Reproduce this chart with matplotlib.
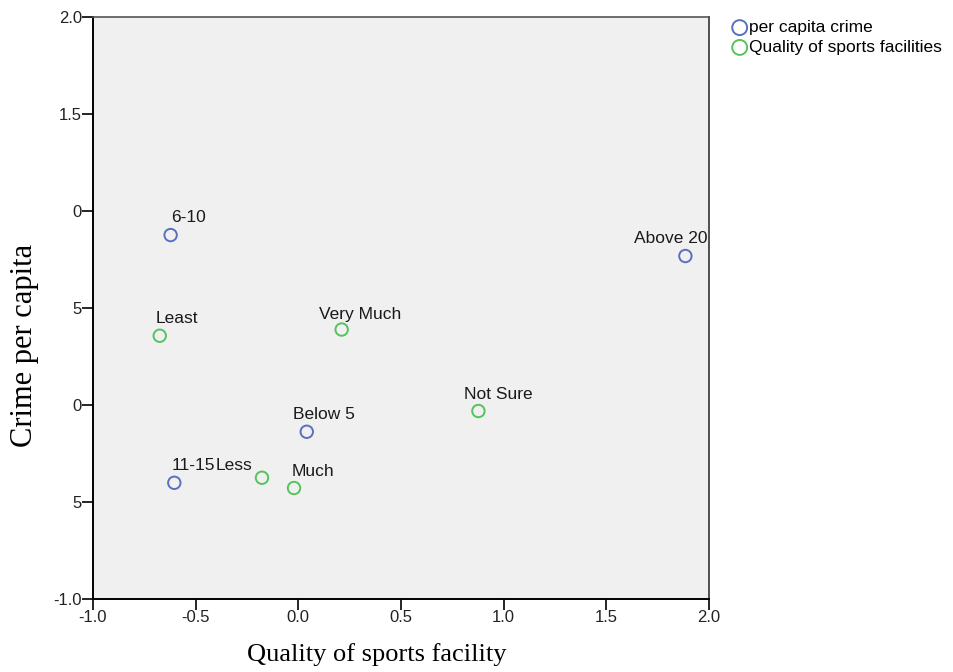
import matplotlib
matplotlib.use("Agg")
import matplotlib.pyplot as plt

# coordonnées des catégories (dimension 1 = qualité, dimension 2 = crime)
crime_labels = ["6-10", "Above 20", "Below 5", "11-15"]
crime_x = [-0.622, 1.885, 0.041, -0.604]
crime_y = [0.876, 0.768, -0.138, -0.401]

sport_labels = ["Least", "Very Much", "Not Sure", "Less", "Much"]
sport_x = [-0.675, 0.211, 0.877, -0.177, -0.021]
sport_y = [0.357, 0.389, -0.031, -0.375, -0.428]

yticks = [2.0, 1.5, 1.0, 0.5, 0.0, -0.5, -1.0]
ytick_labels = ["2.0", "1.5", "0", "5", "0", "5", "-1.0"]
xticks = [-1.0, -0.5, 0.0, 0.5, 1.0, 1.5, 2.0]
xtick_labels = ["-1.0", "-0.5", "0.0", "0.5", "1.0", "1.5", "2.0"]

# décalage des étiquettes en pixels (bord gauche, ligne de base)
crime_off = [(1, 13), (-51, 13), (-14, 13), (-3, 13)]
sport_off = [(-4, 13), (-23, 11), (-14, 12), (-46, 8), (-2, 12)]

plt.rcParams['font.family'] = ['Liberation Sans', 'DejaVu Sans']

fig = plt.figure(figsize=(9.54, 6.72), dpi=100)
ax = fig.add_axes([93/954, 73/672, 616/954, 582/672])
ax.set_facecolor('#f0f0f0')

blue = '#5b6fc2'
green = '#55c25c'

ax.scatter(crime_x, crime_y, s=80, facecolors='none', edgecolors=blue,
           linewidths=1.4, label='per capita crime', zorder=3)
ax.scatter(sport_x, sport_y, s=80, facecolors='none', edgecolors=green,
           linewidths=1.4, label='Quality of sports facilities', zorder=3)

for lab, x, y, off in zip(crime_labels, crime_x, crime_y, crime_off):
    ax.annotate(lab, (x, y), xytext=off, textcoords='offset pixels',
                ha='left', va='baseline', fontsize=12.5, color='#1a1a1a')
for lab, x, y, off in zip(sport_labels, sport_x, sport_y, sport_off):
    ax.annotate(lab, (x, y), xytext=off, textcoords='offset pixels',
                ha='left', va='baseline', fontsize=12.5, color='#1a1a1a')

ax.set_xlim(-1.0, 2.0)
ax.set_ylim(-1.0, 2.0)
ax.set_xticks(xticks)
ax.set_xticklabels(xtick_labels)
ax.set_yticks(yticks)
ax.set_yticklabels(ytick_labels)
ax.tick_params(direction='out', length=8, width=1.2, colors='black', labelsize=12)
ax.tick_params(axis='x', pad=0)
ax.tick_params(axis='y', pad=0)
for t in ax.get_xticklabels() + ax.get_yticklabels():
    t.set_color('#222222')

for side in ['left', 'bottom']:
    ax.spines[side].set_linewidth(1.4)
    ax.spines[side].set_color('black')
ax.spines['top'].set_color('#555555')
ax.spines['right'].set_color('#333333')
ax.spines['top'].set_linewidth(1.2)
ax.spines['right'].set_linewidth(1.2)

ax.set_xlabel('Quality of sports facility', family='Liberation Serif', fontsize=19)
ax.xaxis.set_label_coords(0.461, -0.075)
ax.set_ylabel('Crime per capita', family='Liberation Serif', fontsize=22)
ax.yaxis.set_label_coords(-0.088, 0.436)

fig.legend(loc='upper left', bbox_to_anchor=(731/954, 1 - 20/672), frameon=False,
           fontsize=12.5, handletextpad=0.05, borderaxespad=0, borderpad=0,
           labelspacing=0.27, handlelength=1.0, markerscale=1.2)

fig.savefig('out.png', dpi=100, facecolor='white')
